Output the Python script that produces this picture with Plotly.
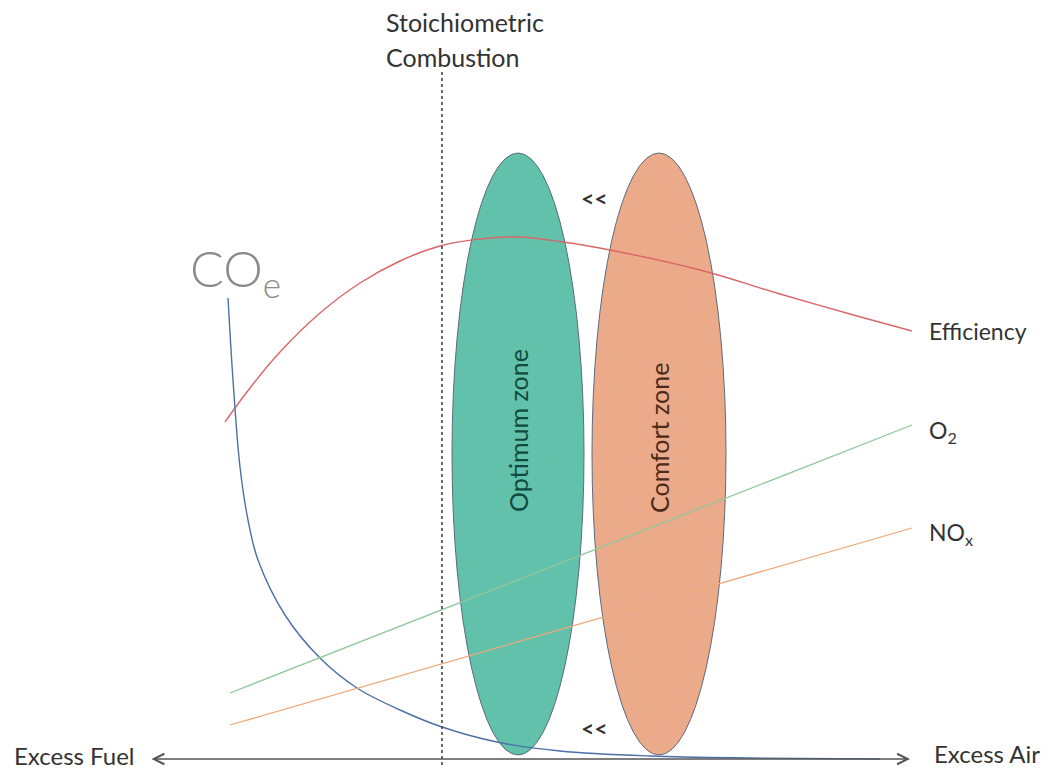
import plotly.graph_objects as go

# ---- data (arbitrary schematic units: x = air ratio axis, y = level) ----
eff_x = [22.5, 25.0, 28.0, 32.0, 36.0, 40.0, 44.0, 48.0, 51.7, 56.3, 61.0, 70.0, 78.0, 85.0, 91.2]
eff_y = [35.1, 38.5, 42.1, 46.0, 49.0, 51.2, 52.7, 53.4, 53.6, 53.1, 52.3, 50.3, 47.9, 45.9, 44.2]

co_x = [22.8, 23.3, 24.0, 24.8, 25.8, 28.5, 32.0, 35.7, 40.0, 44.2, 49.7, 56.0, 65.0, 75.0, 88.0]
co_y = [47.5, 39.3, 30.6, 25.3, 21.3, 15.8, 11.5, 8.5, 6.3, 4.6, 3.1, 2.2, 1.7, 1.5, 1.4]

o2_x = [23.0, 91.2]
o2_y = [8.0, 34.8]

nox_x = [23.0, 91.2]
nox_y = [4.8, 24.5]

zone_names = ["Optimum zone", "Comfort zone"]
zone_x0 = [45.2, 59.2]
zone_x1 = [58.4, 72.6]
zone_y0 = [1.8, 1.8]
zone_y1 = [62.0, 62.0]
zone_text_y = [34.2, 33.5]

stoich_x = 44.2
axis_left, axis_right, axis_y = 15.0, 91.0, 1.4

series_labels = ["Efficiency", "O<sub>2</sub>", "NO<sub>x</sub>"]
series_label_y = [44.2, 34.2, 24.0]

FONT = "Lato"
fig = go.Figure()

fig.add_trace(go.Scatter(x=eff_x, y=eff_y, mode="lines", line=dict(color="#d8666a", width=1.4, shape="spline", smoothing=1.2), hoverinfo="skip"))
fig.add_trace(go.Scatter(x=co_x, y=co_y, mode="lines", line=dict(color="#4d6fa8", width=1.4, shape="spline"), hoverinfo="skip"))
fig.add_trace(go.Scatter(x=o2_x, y=o2_y, mode="lines", line=dict(color="#8fc79c", width=1.3), hoverinfo="skip"))
fig.add_trace(go.Scatter(x=nox_x, y=nox_y, mode="lines", line=dict(color="#f0a878", width=1.3), hoverinfo="skip"))

fills = ["#62c1ab", "#ebaa8a"]
txtcol = ["#0f4a3e", "#4a2a1a"]
for i in range(2):
    fig.add_shape(type="circle", xref="x", yref="y", x0=zone_x0[i], x1=zone_x1[i], y0=zone_y0[i], y1=zone_y1[i],
                  fillcolor=fills[i], line=dict(color="#5d6b7c", width=1), layer="below")
    fig.add_annotation(x=(zone_x0[i] + zone_x1[i]) / 2, y=zone_text_y[i], text=zone_names[i], textangle=-90,
                       showarrow=False, font=dict(family=FONT, size=25, color=txtcol[i]))

# stoichiometric dashed line
fig.add_shape(type="line", xref="x", yref="y", x0=stoich_x, x1=stoich_x, y0=0.8, y1=70.3,
              line=dict(color="#444444", width=1.6, dash="dot"))
fig.add_annotation(x=38.4, y=75.1, xanchor="left", text="Stoichiometric", showarrow=False,
                   font=dict(family=FONT, size=25, color="#333333"))
fig.add_annotation(x=38.4, y=71.6, xanchor="left", text="Combustion", showarrow=False,
                   font=dict(family=FONT, size=25, color="#333333"))

# bottom double arrow
fig.add_annotation(x=axis_right, y=axis_y, ax=axis_left, ay=axis_y, xref="x", yref="y", axref="x", ayref="y",
                   text="", showarrow=True, arrowhead=5, startarrowhead=5, arrowside="end+start",
                   arrowsize=1.3, startarrowsize=1.3, arrowwidth=1.6, arrowcolor="#555555")
fig.add_annotation(x=1.2, y=1.8, xanchor="left", text="Excess Fuel", showarrow=False,
                   font=dict(family=FONT, size=24, color="#333333"))
fig.add_annotation(x=93.2, y=2.0, xanchor="left", text="Excess Air", showarrow=False,
                   font=dict(family=FONT, size=24, color="#333333"))

# << markers
for yy in [57.5, 4.5]:
    fig.add_annotation(x=59.4, y=yy, text="<b>&lt;&lt;</b>", showarrow=False,
                       font=dict(family=FONT, size=23, color="#333333"))

# series labels
for lab, ly in zip(series_labels, series_label_y):
    fig.add_annotation(x=92.7, y=ly, xanchor="left", text=lab, showarrow=False,
                       font=dict(family=FONT, size=23, color="#333333"))

fig.add_annotation(x=18.8, y=50.2, xanchor="left", text="CO<sub>e</sub>", showarrow=False,
                   font=dict(family=FONT, size=50, color="#8a8a8a", weight=300))

fig.update_layout(width=1051, height=773, margin=dict(l=0, r=0, t=0, b=0),
                  paper_bgcolor="white", plot_bgcolor="white", showlegend=False,
                  xaxis=dict(range=[0, 105.1], visible=False, fixedrange=True),
                  yaxis=dict(range=[0, 77.3], visible=False, fixedrange=True))

fig.write_html("out.html", config={"displayModeBar": False},
               post_script="document.body.style.margin='0px';document.body.style.overflow='hidden';")
